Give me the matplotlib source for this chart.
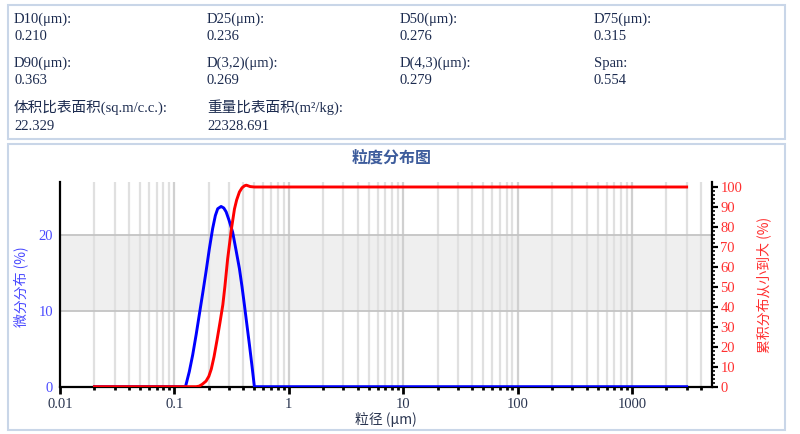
import matplotlib
matplotlib.use("Agg")
import matplotlib.pyplot as plt
from matplotlib.patches import Rectangle
from matplotlib.ticker import FixedLocator, NullFormatter

# ---------------- data ----------------
stat_labels = ["D10(μm):", "D25(μm):", "D50(μm):", "D75(μm):",
               "D90(μm):", "D(3,2)(μm):", "D(4,3)(μm):", "Span:",
               "体积比表面积(sq.m/c.c.):", "重量比表面积(m²/kg):"]
stat_values = ["0.210", "0.236", "0.276", "0.315",
               "0.363", "0.269", "0.279", "0.554",
               "22.329", "22328.691"]

# differential distribution (%)
diff_size = [0.02, 0.05, 0.1, 0.125, 0.135, 0.1445, 0.155, 0.165, 0.177, 0.189, 0.202,
             0.216, 0.228, 0.239, 0.256, 0.27, 0.283, 0.30, 0.323, 0.345, 0.37,
             0.39, 0.409, 0.43, 0.453, 0.477, 0.50, 1.0, 10, 100, 1000, 3000]
diff_pct = [0, 0, 0, 0, 2.0, 4.2, 6.9, 9.5, 12.4, 15.2, 18.2,
            20.9, 22.6, 23.5, 23.8, 23.6, 23.1, 22.0, 20.4, 18.1, 15.6,
            13.2, 10.8, 8.2, 5.5, 2.7, 0, 0, 0, 0, 0, 0]

# cumulative distribution (%)
cum_size = [0.02, 0.1, 0.155, 0.165, 0.175, 0.189, 0.2, 0.21, 0.222, 0.236, 0.25,
            0.265, 0.276, 0.292, 0.315, 0.335, 0.35, 0.37, 0.39, 0.41, 0.425,
            0.44, 0.46, 0.5, 1, 10, 100, 1000, 3000]
cum_pct = [0, 0, 0, 0.3, 1.2, 2.8, 5.2, 8.8, 15, 23.5, 32,
           41, 50, 64, 79, 89, 93.5, 97.5, 99.6, 100.6, 100.9,
           100.6, 100.2, 100, 100, 100, 100, 100, 100]

x_major = [0.01, 0.1, 1, 10, 100, 1000]
x_major_labels = ["0.01", "0.1", "1", "10", "100", "1000"]

# ---------------- figure ----------------
W, H = 800, 434
fig = plt.figure(figsize=(W / 100, H / 100), dpi=100)
fig.patch.set_facecolor("white")

num_font = ["Liberation Serif", "Noto Sans CJK SC", "DejaVu Sans"]
cjk_font = ["Noto Sans CJK SC", "DejaVu Sans"]


def fx(px):
    return px / W


def fy(py):
    return 1 - py / H


# panel boxes
box_col = "#c9d6e8"
fig.patches.append(Rectangle((fx(8), fy(139)), fx(785) - fx(8), fy(5) - fy(139),
                             transform=fig.transFigure, fill=False, ec=box_col, lw=1.5))
fig.patches.append(Rectangle((fx(8), fy(430)), fx(785) - fx(8), fy(144) - fy(430),
                             transform=fig.transFigure, fill=False, ec=box_col, lw=1.5))

# stats text
txt_col = "#1c2b4f"
col_x = [14, 207, 400, 594]
row_y = [(19, 37), (63, 81), (107, 126)]
for i, (lab, val) in enumerate(zip(stat_labels, stat_values)):
    r, c = divmod(i, 4)
    ly, vy = row_y[r]
    fig.text(fx(col_x[c]), fy(ly), lab, ha="left", va="center", fontsize=10.5,
             color=txt_col, family=num_font)
    fig.text(fx(col_x[c]), fy(vy), val, ha="left", va="center", fontsize=10.5,
             color=txt_col, family=num_font)

# ---------------- axes ----------------
left, right, top, bottom = 60, 712, 182, 386.7
ax = fig.add_axes([fx(left), fy(bottom), fx(right) - fx(left), fy(top) - fy(bottom)])
ax.set_xscale("log")
ax.set_xlim(0.01, 5000)
ax.set_ylim(0, 27.03)
ax.set_facecolor("white")

# band and grid
ax.axhspan(10, 20, color="#efefef", zorder=0, lw=0)
minor_pos = [m * 10.0 ** e for e in range(-2, 4) for m in range(2, 10) if m * 10.0 ** e < 5000]
for xv in minor_pos:
    ax.axvline(xv, color="#e0e0e0", lw=1.6, zorder=1)
for xv in x_major[1:]:
    ax.axvline(xv, color="#d0d0d0", lw=1.6, zorder=1)
for yv in (10, 20):
    ax.axhline(yv, color="#c4c4c4", lw=1.3, zorder=1)

ax.plot(diff_size, diff_pct, color="#0000ff", lw=2.1, zorder=4, solid_joinstyle="round")

ax2 = ax.twinx()
ax2.set_ylim(0, 102.5)
ax2.plot(cum_size, cum_pct, color="#ff0000", lw=2.1, zorder=4, solid_joinstyle="round")
ax.set_zorder(1)
ax2.set_zorder(2)
ax2.patch.set_visible(False)

# spines
for a in (ax, ax2):
    a.spines["top"].set_visible(False)
    for s in ("left", "right", "bottom"):
        a.spines[s].set_linewidth(1.6)
        a.spines[s].set_color("black")
ax.spines["right"].set_visible(False)
ax2.spines["left"].set_visible(False)
ax2.spines["bottom"].set_visible(False)

# x ticks
ax.xaxis.set_major_locator(FixedLocator(x_major))
ax.set_xticklabels(x_major_labels)
ax.xaxis.set_minor_locator(FixedLocator(minor_pos))
ax.xaxis.set_minor_formatter(NullFormatter())
ax.tick_params(axis="x", which="major", direction="out", length=5, width=2,
               colors="black", labelcolor="#2a3550", pad=3)
ax.tick_params(axis="x", which="minor", direction="out", length=2.5, width=2, colors="black")
for t in ax.get_xticklabels():
    t.set_family(num_font)
    t.set_fontsize(10.5)

# left y ticks
ax.set_yticks([0, 10, 20])
ax.tick_params(axis="y", which="both", length=0, pad=5, labelcolor="#4a4aff")
for t in ax.get_yticklabels():
    t.set_family(num_font)
    t.set_fontsize(10.5)

# right y ticks
ax2.set_yticks(list(range(0, 101, 10)))
ax2.yaxis.set_minor_locator(FixedLocator(list(range(0, 101, 2))))
ax2.tick_params(axis="y", which="major", direction="out", length=4, width=1.6,
                colors="black", labelcolor="#ff3030", pad=2)
ax2.tick_params(axis="y", which="minor", direction="out", length=2.5, width=1.2, colors="black")
for t in ax2.get_yticklabels():
    t.set_family(num_font)
    t.set_fontsize(10.5)

# labels
fig.text(fx(392), fy(158), "粒度分布图", ha="center", va="center", fontsize=11.5,
         color="#3d5c9c", family=cjk_font, fontweight="bold")
fig.text(fx(386), fy(419), "粒径 (μm)", ha="center", va="center", fontsize=10,
         color="#2a3550", family=cjk_font)
fig.text(fx(21), fy(287), "微分分布 (%)", ha="center", va="center", rotation=90,
         fontsize=10, color="#4a4aff", family=cjk_font)
fig.text(fx(764), fy(285), "累积分布从小到大 (%)", ha="center", va="center", rotation=90,
         fontsize=10, color="#ff3030", family=cjk_font)

fig.savefig("out.png", dpi=100, facecolor="white")
